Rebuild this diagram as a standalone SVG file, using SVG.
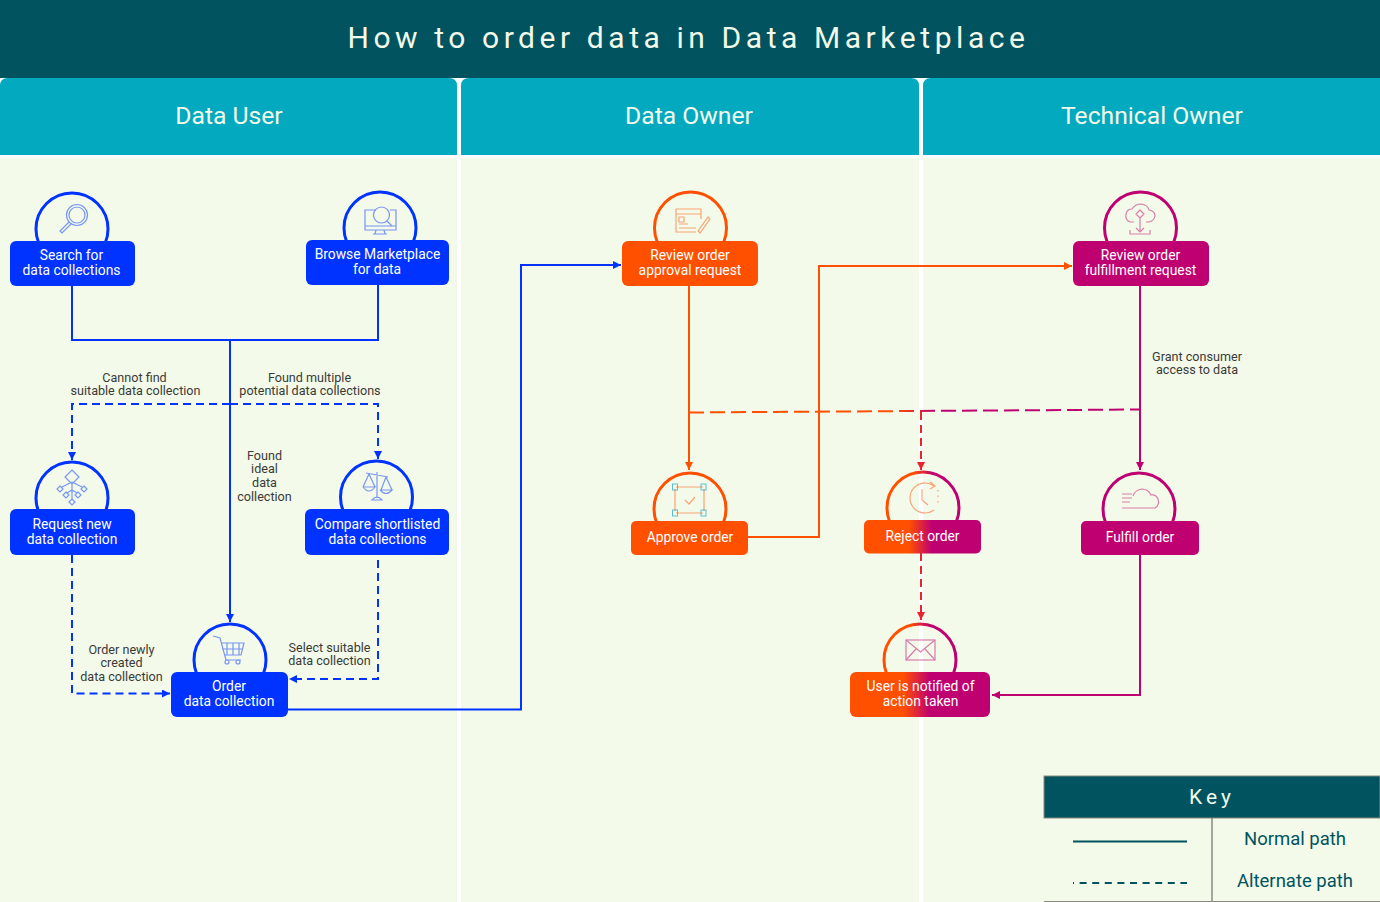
<svg xmlns="http://www.w3.org/2000/svg" width="1380" height="902" viewBox="0 0 1380 902">
<style>
text{font-family:Roboto,"Liberation Sans",sans-serif;text-anchor:middle}
.n{font-size:13.850px;fill:#fff}
.l{font-size:12.600px;fill:#3a3a3a}
.h{font-size:24.700px;fill:#f3fae9}
.k{font-size:18.500px;fill:#00535f}
.ring{fill:none;stroke-width:3}
.ic{fill:none;stroke-width:1.200;opacity:.5}
.c{fill:none;stroke-width:2}
.d{stroke-dasharray:8 5}
.dl{stroke-dasharray:15 6}
.b{stroke:#0033ff}.o{stroke:#ff5000}.m{stroke:#bf0071}.r{stroke:#e9242f}
</style>
<defs>
<marker id="ab" markerUnits="userSpaceOnUse" markerWidth="9" markerHeight="9" refX="8" refY="4" orient="auto"><path d="M0 0L8 4L0 8z" fill="#0033ff"/></marker>
<marker id="ao" markerUnits="userSpaceOnUse" markerWidth="9" markerHeight="9" refX="8" refY="4" orient="auto"><path d="M0 0L8 4L0 8z" fill="#ff5000"/></marker>
<marker id="am" markerUnits="userSpaceOnUse" markerWidth="9" markerHeight="9" refX="8" refY="4" orient="auto"><path d="M0 0L8 4L0 8z" fill="#bf0071"/></marker>
<marker id="ar" markerUnits="userSpaceOnUse" markerWidth="9" markerHeight="9" refX="8" refY="4" orient="auto"><path d="M0 0L8 4L0 8z" fill="#e9242f"/></marker>
<linearGradient id="gr1" gradientUnits="userSpaceOnUse" x1="909" y1="0" x2="932" y2="0"><stop offset="0" stop-color="#ff5000"/><stop offset="1" stop-color="#bf0071"/></linearGradient>
<linearGradient id="gr2" gradientUnits="userSpaceOnUse" x1="903" y1="0" x2="930" y2="0"><stop offset="0" stop-color="#ff5000"/><stop offset="1" stop-color="#bf0071"/></linearGradient>
<linearGradient id="gc1" gradientUnits="userSpaceOnUse" x1="913" y1="0" x2="933" y2="0"><stop offset="0" stop-color="#ff5000"/><stop offset="1" stop-color="#bf0071"/></linearGradient>
<linearGradient id="gc2" gradientUnits="userSpaceOnUse" x1="910" y1="0" x2="930" y2="0"><stop offset="0" stop-color="#ff5000"/><stop offset="1" stop-color="#bf0071"/></linearGradient>
<linearGradient id="gl" gradientUnits="userSpaceOnUse" x1="895" y1="0" x2="935" y2="0"><stop offset="0" stop-color="#ff5000"/><stop offset="1" stop-color="#bf0071"/></linearGradient>
</defs>
<rect width="1380" height="902" fill="#fff"/>
<g id="swimlanes">
<rect x="0" y="158" width="457" height="744" fill="#f3fae9"/>
<rect x="461" y="158" width="458" height="744" fill="#f3fae9"/>
<rect x="923" y="158" width="457" height="744" fill="#f3fae9"/>
<path d="M0 155V86Q0 78 8 78H449Q457 78 457 86V155z" fill="#02a9bf"/>
<path d="M461 155V86Q461 78 469 78H911Q919 78 919 86V155z" fill="#02a9bf"/>
<path d="M923 155V86Q923 78 931 78H1380V155z" fill="#02a9bf"/>
<rect width="1380" height="78" fill="#00535f"/>
<text x="688.500" y="48" font-size="30" letter-spacing="4.570" fill="#f3fae9">How to order data in Data Marketplace</text>
<text class="h" x="229" y="124">Data User</text>
<text class="h" x="689" y="124">Data Owner</text>
<text class="h" x="1152" y="124">Technical Owner</text>
</g>
<g id="connectors">
<path class="c b" d="M72 286V340H378V285"/>
<path class="c b" d="M230 340V622" marker-end="url(#ab)"/>
<path class="c b d" d="M230 404H72V460" marker-end="url(#ab)"/>
<path class="c b d" d="M230 404H378V459" marker-end="url(#ab)"/>
<path class="c b d" d="M72 555V693.500H170" marker-end="url(#ab)"/>
<path class="c b d" d="M378 560V679H289" marker-end="url(#ab)"/>
<path class="c b" d="M288 709.500H521V265H621" marker-end="url(#ab)"/>
<path class="c o" d="M689 286V470" marker-end="url(#ao)"/>
<path class="c o" d="M748 537H819V266H1072" marker-end="url(#ao)"/>
<path class="c m" d="M1140 286V470" marker-end="url(#am)"/>
<path class="c m" d="M1140 554V695H992" marker-end="url(#am)"/>
<path class="c dl" stroke="url(#gl)" d="M689 412.500L1140 409.500"/>
<path class="c r d" d="M921 412V470" marker-end="url(#ar)"/>
<path class="c r d" d="M921 553V620" marker-end="url(#ar)"/>
</g>
<g id="n-search">
<circle class="ring b" cx="72" cy="229" r="36"/>
<g class="ic b"><circle cx="77" cy="215" r="10.500"/><circle cx="77" cy="215" r="8"/><path d="M69 222L60 231L62 233L71 224"/></g>
<rect x="10" y="241" width="125" height="45" rx="6" fill="#0033ff"/>
<text class="n"><tspan x="71.500" y="260">Search for</tspan><tspan x="71.500" y="275">data collections</tspan></text>
</g>
<g id="n-browse">
<circle class="ring b" cx="380" cy="228" r="36"/>
<g class="ic b"><path d="M376 210H365V230H396V210H390M365 226H396M376 230L375 234H385L384 230M373 234H387"/><circle cx="381.500" cy="215" r="8"/><path d="M387 221L392 226"/></g>
<rect x="306" y="240" width="143" height="45" rx="6" fill="#0033ff"/>
<text class="n"><tspan x="377.500" y="259">Browse Marketplace</tspan><tspan x="377" y="274">for data</tspan></text>
</g>
<g id="n-request">
<circle class="ring b" cx="72" cy="498" r="36"/>
<g class="ic b"><path d="M72 470L79 477L72 484L65 477zM60 486L63 489L60 492L57 489zM84 486L87 489L84 492L81 489zM66 492L69 495L66 498L63 495zM78 492L81 495L78 498L75 495zM72 499L75 502L72 505L69 502zM72 484V499M72 482L62 487M72 482L82 487M72 490L67 493M72 490L77 493"/></g>
<rect x="10" y="509" width="125" height="46" rx="6" fill="#0033ff"/>
<text class="n"><tspan x="72" y="529">Request new</tspan><tspan x="72" y="544">data collection</tspan></text>
</g>
<g id="n-compare">
<circle class="ring b" cx="376.500" cy="497" r="36"/>
<g class="ic b"><path d="M366 473L388 477M377 472V498M372 500Q377 494 382 500zM369 474L363 487M369 474L375 487M363 487H375Q369 495 363 487M386 477L381 490M386 477L392 490M380 490H392Q386 497 380 490"/></g>
<rect x="305" y="509" width="144" height="46" rx="6" fill="#0033ff"/>
<text class="n"><tspan x="377.500" y="529">Compare shortlisted</tspan><tspan x="377.500" y="544">data collections</tspan></text>
</g>
<g id="n-order">
<circle class="ring b" cx="230" cy="660" r="36"/>
<g class="ic b"><path d="M213 636L220 638L226 660H241M221 643H244L241 655H224M227 643V655M233 643V655M239 643V655M222 649H243"/><circle cx="227" cy="662" r="2"/><circle cx="238" cy="662" r="2"/></g>
<rect x="171" y="672" width="117" height="45" rx="6" fill="#0033ff"/>
<text class="n"><tspan x="229" y="691">Order</tspan><tspan x="229" y="706">data collection</tspan></text>
</g>
<g id="n-review-approval">
<circle class="ring o" cx="690.500" cy="228" r="36"/>
<g class="ic o"><path d="M696 232H676V209H701V219M676 214H701M679 217H684V222H679zM679 224H688M679 228H696M698 231L708 217L710 219L700 233z"/></g>
<rect x="622" y="241" width="136" height="45" rx="6" fill="#ff5000"/>
<text class="n"><tspan x="690" y="260">Review order</tspan><tspan x="690" y="275">approval request</tspan></text>
</g>
<g id="n-review-fulfill">
<circle class="ring m" cx="1140.500" cy="228" r="36"/>
<g class="ic m"><path d="M1134 222H1130Q1125 220 1126 214Q1127 209 1132 209Q1135 204 1141 204Q1148 205 1149 210Q1155 211 1155 216Q1154 221 1149 222H1146M1140 210L1144 214L1140 218L1136 214zM1140 218V232M1136 228L1140 232L1144 228M1130 230V234H1150V230"/></g>
<rect x="1073" y="241" width="136" height="45" rx="6" fill="#bf0071"/>
<text class="n"><tspan x="1140.500" y="260">Review order</tspan><tspan x="1140.500" y="275">fulfillment request</tspan></text>
</g>
<g id="n-approve">
<circle class="ring o" cx="690" cy="509" r="36"/>
<g class="ic o"><path d="M676 487H703M676 513H703M675 489V511M704 489V511M685 500L689 504L695 497"/></g>
<g fill="none" stroke="#1fa7c9" opacity=".7"><rect x="672.500" y="484" width="5" height="6"/><rect x="701" y="484" width="5" height="6"/><rect x="672.500" y="510" width="5" height="6"/><rect x="701" y="510" width="5" height="6"/></g>
<rect x="631" y="521" width="117" height="34" rx="5" fill="#ff5000"/>
<text class="n" x="690" y="542">Approve order</text>
</g>
<g id="n-reject">
<circle class="ring" stroke="url(#gc1)" cx="923" cy="508" r="36"/>
<g class="ic o"><path d="M934 486A15 15 0 1 0 934 510M930 482L935 486L930 489M922 489V500L928 505"/><path d="M938 490V506" stroke-dasharray="1.500 4"/></g>
<rect x="864" y="520" width="117" height="33.500" rx="5" fill="url(#gr1)"/>
<text class="n" x="922.500" y="541">Reject order</text>
</g>
<g id="n-fulfill">
<circle class="ring m" cx="1139" cy="509" r="36"/>
<g class="ic m"><path d="M1132 494H1122M1132 498H1122M1122 508H1155Q1160 505 1158 499Q1156 494 1151 495Q1148 489 1142 489Q1135 490 1133 496M1130 502H1122"/></g>
<rect x="1081" y="521" width="118" height="34" rx="5" fill="#bf0071"/>
<text class="n" x="1140" y="542">Fulfill order</text>
</g>
<g id="n-notified">
<circle class="ring" stroke="url(#gc2)" cx="920" cy="660" r="36"/>
<g class="ic m"><rect x="906" y="640" width="29" height="20"/><path d="M906 640L920.500 652L935 640M906 660L916 649M935 660L925 649"/></g>
<rect x="850" y="672" width="140" height="45" rx="6" fill="url(#gr2)"/>
<text class="n"><tspan x="920.500" y="691">User is notified of</tspan><tspan x="920.500" y="706">action taken</tspan></text>
</g>
<g id="labels">
<text class="l"><tspan x="134.500" y="382">Cannot find</tspan><tspan x="135.500" y="395">suitable data collection</tspan></text>
<text class="l"><tspan x="309.500" y="382">Found multiple</tspan><tspan x="310" y="395">potential data collections</tspan></text>
<text class="l"><tspan x="264.500" y="460">Found</tspan><tspan x="264.500" y="473">ideal</tspan><tspan x="264.500" y="487">data</tspan><tspan x="264.500" y="501">collection</tspan></text>
<text class="l"><tspan x="121.500" y="654">Order newly</tspan><tspan x="121.500" y="667">created</tspan><tspan x="121.500" y="681">data collection</tspan></text>
<text class="l"><tspan x="329.500" y="652">Select suitable</tspan><tspan x="329.500" y="665">data collection</tspan></text>
<text class="l"><tspan x="1197" y="361">Grant consumer</tspan><tspan x="1197" y="374">access to data</tspan></text>
</g>
<g id="key">
<rect x="1044" y="776" width="336" height="42" fill="#00535f" stroke="#8a8a80"/>
<text x="1212" y="804" font-size="21" letter-spacing="4" fill="#f3fae9">Key</text>
<path d="M1212 818V902" stroke="#555" fill="none"/>
<path d="M1044 901.500H1380" stroke="#8a8a80" fill="none"/>
<path d="M1073 841.500H1187" stroke="#00535f" stroke-width="2" fill="none"/>
<path d="M1073 883H1187" stroke="#00535f" stroke-width="2" stroke-dasharray="7 5.600" stroke-dashoffset="6" fill="none"/>
<text class="k" x="1295" y="845">Normal path</text>
<text class="k" x="1295" y="887">Alternate path</text>
</g>
</svg>
